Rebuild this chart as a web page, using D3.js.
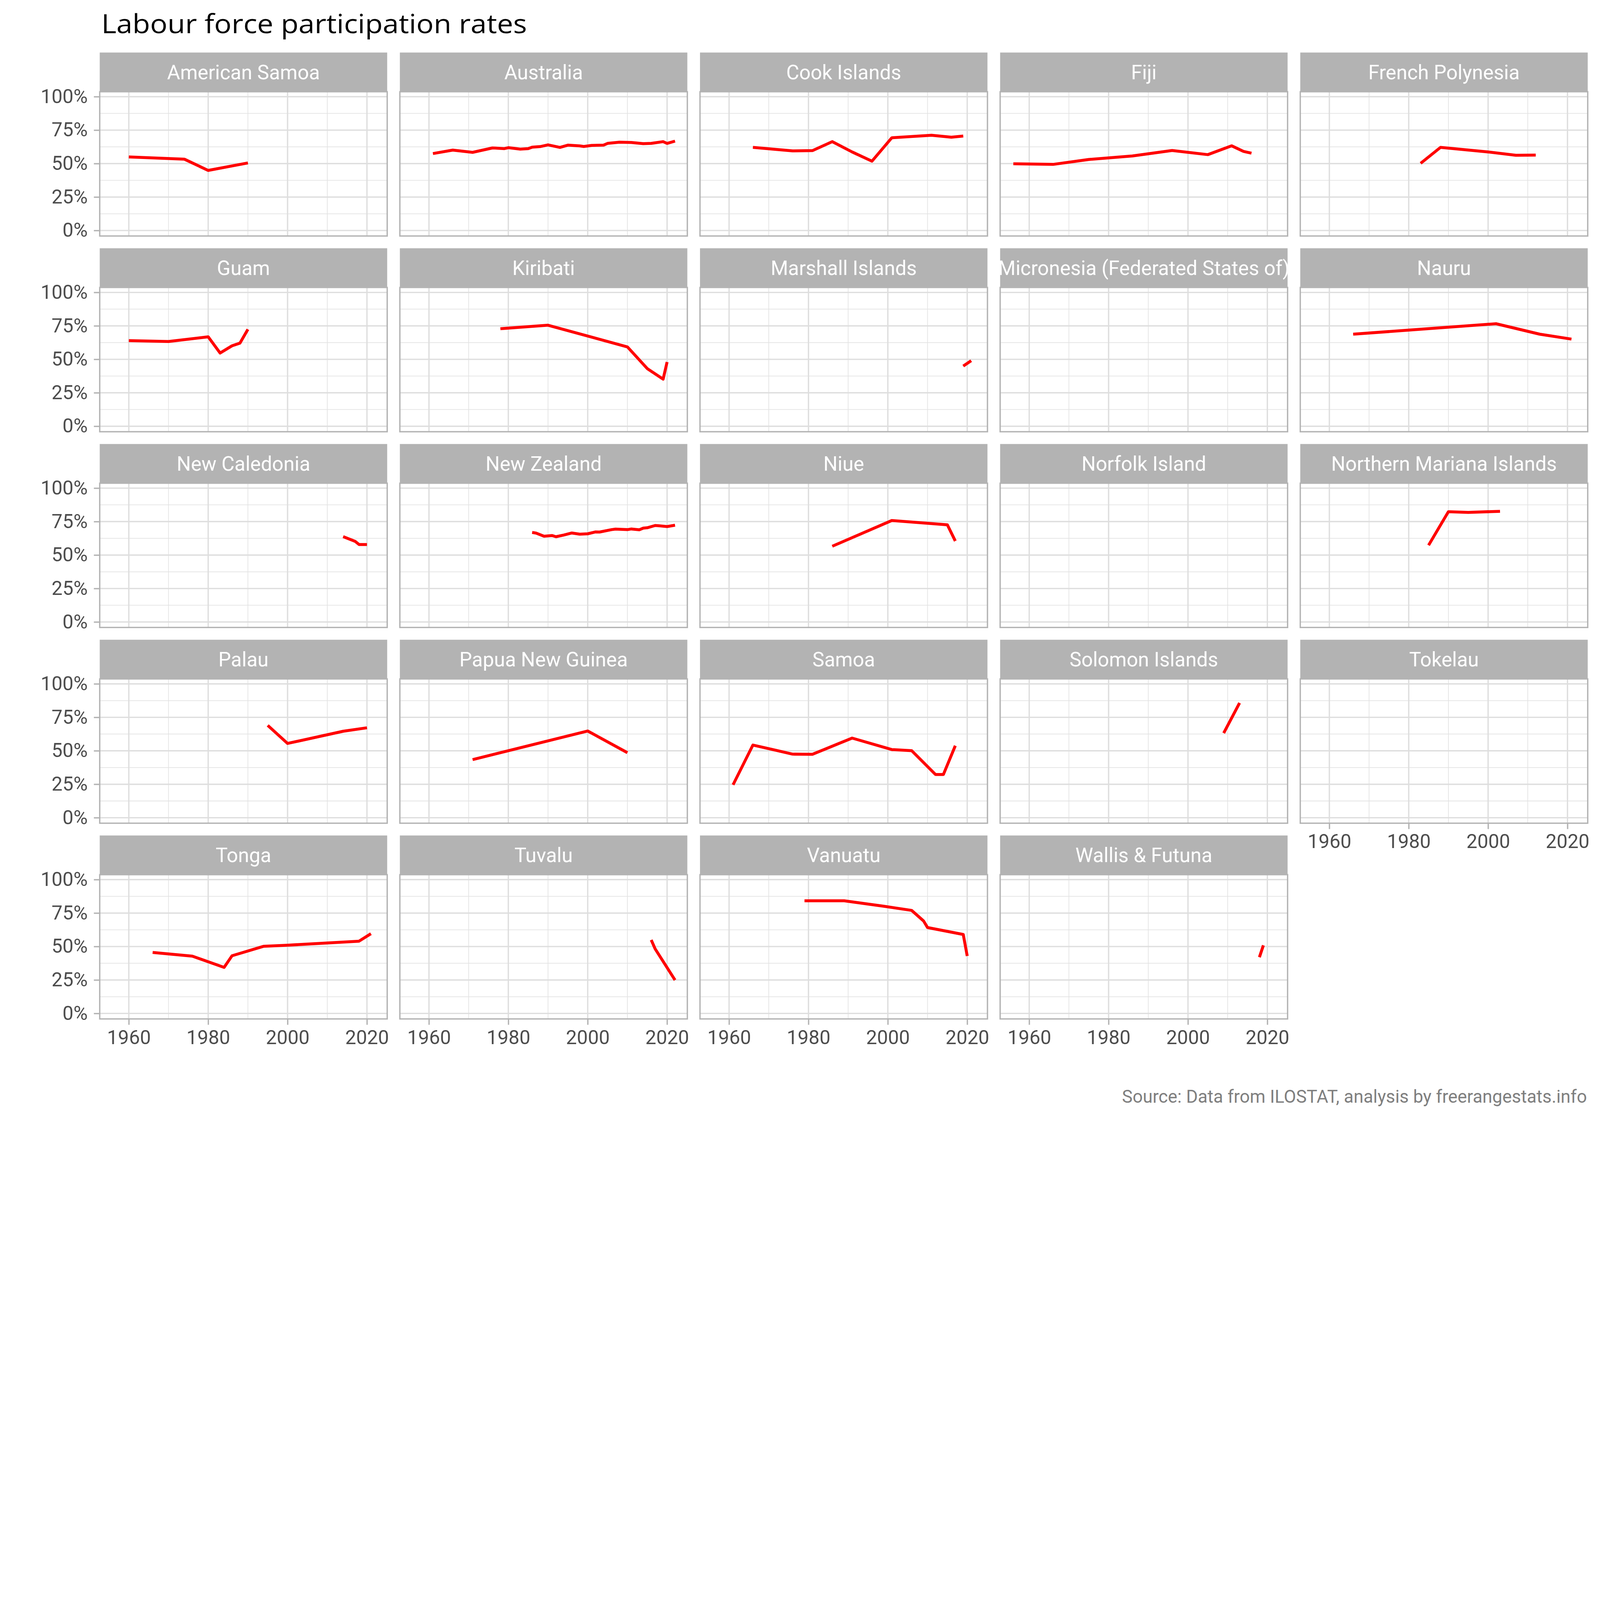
<!DOCTYPE html>
<html>
<head>
<meta charset="utf-8">
<script src="https://cdn.jsdelivr.net/npm/d3@7"></script>
<style>
  html, body { margin: 0; padding: 0; background: #fff; overflow: hidden; }
  #plot svg { display: block; width: 100vw; height: auto; max-height: 100vh; }
  text { font-family: Roboto, sans-serif; }
</style>
</head>
<body>
<div id="plot"></div>
<script>

// data (year, rate %)

  var countries = ["American Samoa", "Australia", "Cook Islands", "Fiji", "French Polynesia",
      "Guam", "Kiribati", "Marshall Islands", "Micronesia (Federated States of)", "Nauru",
      "New Caledonia", "New Zealand", "Niue", "Norfolk Island", "Northern Mariana Islands",
      "Palau", "Papua New Guinea", "Samoa", "Solomon Islands", "Tokelau",
      "Tonga", "Tuvalu", "Vanuatu", "Wallis & Futuna"];

  var americanSamoa = [[1960, 55.0], [1974, 53.3], [1980, 44.9], [1990, 50.5]];
  var australia = [[1961, 57.5], [1966, 60.1], [1971, 58.4], [1976, 61.7], [1979, 61.2], [1980, 61.9],
      [1983, 60.8], [1985, 61.2], [1986, 62.3], [1988, 62.7], [1990, 64.0], [1993, 62.1], [1995, 63.8],
      [1998, 63.2], [1999, 62.8], [2001, 63.6], [2004, 63.8], [2005, 65.1], [2008, 66.0], [2011, 65.8],
      [2014, 64.9], [2016, 65.1], [2019, 66.4], [2020, 65.1], [2022, 66.8]];
  var cookIslands = [[1966, 62.1], [1976, 59.5], [1981, 59.7], [1986, 66.4], [1991, 58.7], [1996, 51.8],
      [2001, 69.3], [2011, 71.2], [2016, 69.7], [2019, 70.6]];
  var fiji = [[1956, 49.9], [1966, 49.4], [1975, 53.1], [1986, 55.7], [1996, 59.8], [2005, 56.7],
      [2011, 63.3], [2014, 59.1], [2016, 57.8]];
  var frenchPolynesia = [[1983, 50.2], [1988, 62.1], [2000, 58.7], [2007, 56.2], [2012, 56.4]];
  var guam = [[1960, 64.0], [1970, 63.3], [1980, 66.8], [1983, 54.7], [1986, 60.1], [1988, 62.1], [1990, 72.4]];
  var kiribati = [[1978, 72.9], [1990, 75.5], [2010, 59.3], [2015, 43.1], [2019, 35.2], [2020, 48.0]];
  var marshallIslands = [[2019, 45.0], [2021, 49.0]];
  var micronesia = [];
  var nauru = [[1966, 68.8], [2002, 76.6], [2013, 68.8], [2021, 65.1]];
  var newCaledonia = [[2014, 63.8], [2017, 60.3], [2018, 57.9], [2020, 57.9]];
  var newZealand = [[1986, 66.9], [1987, 66.4], [1989, 64.1], [1991, 64.6], [1992, 63.7], [1994, 65.0],
      [1996, 66.5], [1998, 65.6], [2000, 65.9], [2002, 67.3], [2003, 67.2], [2006, 69.0], [2007, 69.4],
      [2010, 69.0], [2011, 69.5], [2013, 68.9], [2014, 70.1], [2015, 70.4], [2017, 72.1], [2018, 71.9],
      [2020, 71.3], [2022, 72.3]];
  var niue = [[1986, 56.6], [2001, 75.8], [2015, 72.6], [2017, 60.5]];
  var norfolkIsland = [];
  var northernMariana = [[1985, 57.3], [1990, 82.4], [1995, 81.9], [2003, 82.7]];
  var palau = [[1995, 69.0], [2000, 55.5], [2014, 64.6], [2020, 67.2]];
  var papuaNewGuinea = [[1971, 43.4], [2000, 64.8], [2010, 48.6]];
  var samoa = [[1961, 24.6], [1966, 54.3], [1971, 50.9], [1976, 47.5], [1981, 47.4], [1991, 59.5],
      [2001, 50.9], [2006, 50.1], [2012, 32.3], [2014, 32.3], [2017, 53.8]];
  var solomonIslands = [[2009, 63.2], [2013, 85.8]];
  var tokelau = [];
  var tonga = [[1966, 45.6], [1976, 42.8], [1984, 34.4], [1986, 43.1], [1994, 50.2], [2000, 51.0],
      [2018, 54.0], [2021, 59.6]];
  var tuvalu = [[2016, 54.9], [2017, 48.2], [2022, 24.9]];
  var vanuatu = [[1979, 84.2], [1989, 84.2], [1999, 80.1], [2006, 77.0], [2009, 69.1], [2010, 64.2],
      [2019, 59.0], [2020, 42.9]];
  var wallisFutuna = [[2018, 42.0], [2019, 50.9]];

  var series = [americanSamoa, australia, cookIslands, fiji, frenchPolynesia,
      guam, kiribati, marshallIslands, micronesia, nauru,
      newCaledonia, newZealand, niue, norfolkIsland, northernMariana,
      palau, papuaNewGuinea, samoa, solomonIslands, tokelau,
      tonga, tuvalu, vanuatu, wallisFutuna];

  var yTicks = [0, 25, 50, 75, 100];
  var yMinor = [12.5, 37.5, 62.5, 87.5];
  var xTicks = [1960, 1980, 2000, 2020];
  var xMinor = [1970, 1990, 2010];

// layout

  var w = 6000;
  var h = 4200;
  var ncol = 5;
  var left0 = 374, top0 = 197;
  var colStep = 1125.5, rowStep = 734;
  var panelW = 1078, stripH = 147, panelH = 541;

  var xScale = d3.scaleLinear()
      .domain([1952.67, 2025.1])
      .range([0, panelW]);

  var yScale = d3.scaleLinear()
      .domain([-4.1, 103.7])
      .range([panelH, 0]);

  var line = d3.line()
      .x(d => xScale(d[0]))
      .y(d => yScale(d[1]));

  // viewBox so the whole chart always fits the window width
  var svg = d3.select("div#plot")
    .append("svg")
      .attr("viewBox", `0 0 ${w} ${h}`)
      .attr("preserveAspectRatio", "xMinYMin meet");

  svg.append("rect")
      .attr("width", w)
      .attr("height", h)
      .attr("fill", "white");

// title and caption

  svg.append("text")
      .attr("x", 380)
      .attr("y", 125)
      .attr("textLength", 1596)
      .attr("lengthAdjust", "spacingAndGlyphs")
      .style("font-family", "'Open Sans', sans-serif")
      .style("font-size", "98px")
      .attr("fill", "black")
      .text("Labour force participation rates");

  svg.append("text")
      .attr("x", 5951)
      .attr("y", 4136)
      .attr("text-anchor", "end")
      .style("font-size", "67px")
      .attr("fill", "#7f7f7f")
      .text("Source: Data from ILOSTAT, analysis by freerangestats.info");

// facets

  countries.forEach(function(name, i) {
      var col = i % ncol;
      var row = Math.floor(i / ncol);
      var gx = left0 + col * colStep;
      var gy = top0 + row * rowStep;

      var facet = svg.append("g")
          .attr("transform", `translate (${gx}, ${gy})`);

      // strip
      facet.append("rect")
          .attr("width", panelW)
          .attr("height", stripH)
          .attr("fill", "#b3b3b3");

      facet.append("text")
          .attr("x", panelW / 2)
          .attr("y", stripH / 2)
          .attr("dy", "0.36em")
          .attr("text-anchor", "middle")
          .style("font-size", "75px")
          .attr("fill", "white")
          .text(name);

      var panel = facet.append("g")
          .attr("transform", `translate (0, ${stripH})`);

      panel.append("rect")
          .attr("width", panelW)
          .attr("height", panelH)
          .attr("fill", "white");

      // minor grid
      panel.selectAll(".yminor")
          .data(yMinor)
        .enter().append("line")
          .attr("x1", 0).attr("x2", panelW)
          .attr("y1", d => yScale(d)).attr("y2", d => yScale(d))
          .attr("stroke", "#e3e3e3")
          .attr("stroke-width", 2.6);

      panel.selectAll(".xminor")
          .data(xMinor)
        .enter().append("line")
          .attr("y1", 0).attr("y2", panelH)
          .attr("x1", d => xScale(d)).attr("x2", d => xScale(d))
          .attr("stroke", "#e3e3e3")
          .attr("stroke-width", 2.6);

      // major grid
      panel.selectAll(".ymajor")
          .data(yTicks)
        .enter().append("line")
          .attr("x1", 0).attr("x2", panelW)
          .attr("y1", d => yScale(d)).attr("y2", d => yScale(d))
          .attr("stroke", "#dedede")
          .attr("stroke-width", 5);

      panel.selectAll(".xmajor")
          .data(xTicks)
        .enter().append("line")
          .attr("y1", 0).attr("y2", panelH)
          .attr("x1", d => xScale(d)).attr("x2", d => xScale(d))
          .attr("stroke", "#dedede")
          .attr("stroke-width", 5);

      // series line
      if (series[i].length > 1) {
          panel.append("path")
              .datum(series[i])
              .attr("d", line)
              .attr("fill", "none")
              .attr("stroke", "red")
              .attr("stroke-width", 11)
              .attr("stroke-linejoin", "round");
      }

      // border
      panel.append("rect")
          .attr("width", panelW)
          .attr("height", panelH)
          .attr("fill", "none")
          .attr("stroke", "#b3b3b3")
          .attr("stroke-width", 5);

      // axes
      if (col === 0) {
          var yAxis = d3.axisLeft(yScale)
              .tickValues(yTicks)
              .tickSize(22)
              .tickPadding(23)
              .tickFormat(d => d + "%");
          panel.append("g")
              .attr("class", "yAxis")
              .call(yAxis);
      }

      if (i + ncol >= countries.length) {
          var xAxis = d3.axisBottom(xScale)
              .tickValues(xTicks)
              .tickSize(22)
              .tickPadding(20)
              .tickFormat(d3.format("d"));
          panel.append("g")
              .attr("class", "xAxis")
              .attr("transform", `translate (0, ${panelH})`)
              .call(xAxis);
      }
  });

  svg.selectAll(".xAxis, .yAxis").select(".domain").remove();
  svg.selectAll(".xAxis .tick line, .yAxis .tick line")
      .attr("stroke", "#b3b3b3")
      .attr("stroke-width", 5);
  svg.selectAll(".xAxis .tick text, .yAxis .tick text")
      .attr("fill", "#4d4d4d")
      .style("font-family", "Roboto, sans-serif")
      .style("font-size", "73px");

</script>
</body>
</html>
